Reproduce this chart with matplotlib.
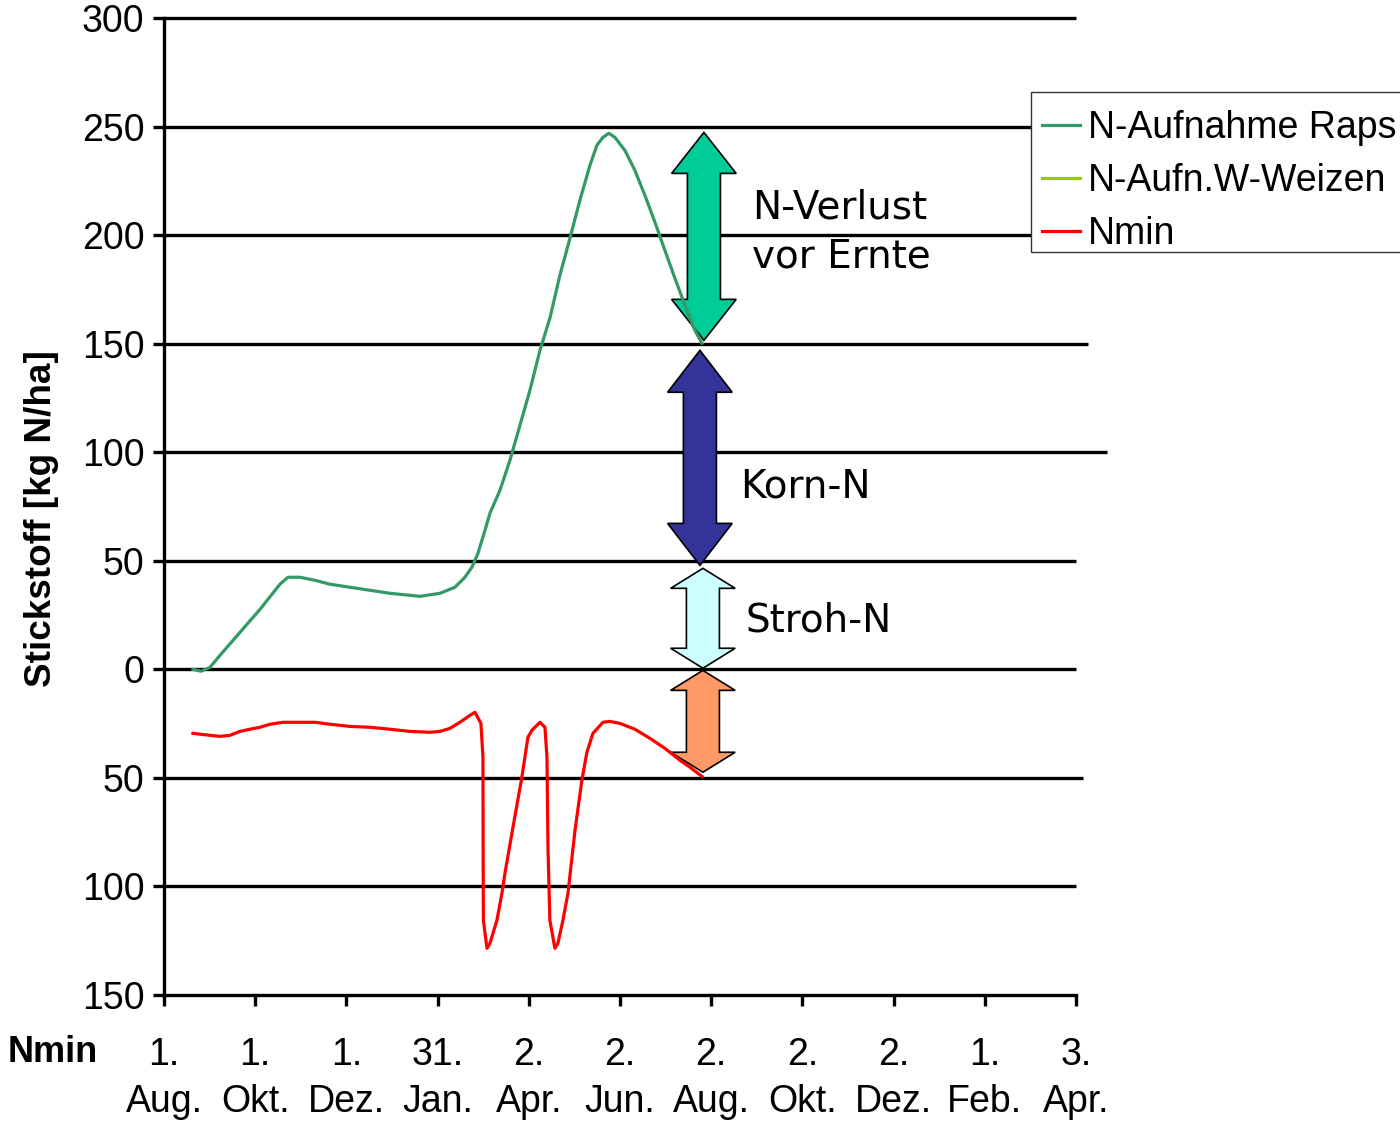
import matplotlib
matplotlib.use("Agg")
import matplotlib.pyplot as plt
from matplotlib.patches import Polygon, Rectangle

# ---------------- data ----------------
tick_dates_top = ["1.", "1.", "1.", "31.", "2.", "2.", "2.", "2.", "2.", "1.", "3."]
tick_dates_bot = ["Aug.", "Okt.", "Dez.", "Jan.", "Apr.", "Jun.", "Aug.", "Okt.", "Dez.", "Feb.", "Apr."]
y_ticks = [-150, -100, -50, 0, 50, 100, 150, 200, 250, 300]
y_tick_labels = ["150", "100", "50", "0", "50", "100", "150", "200", "250", "300"]

raps_x = [0.318, 0.406, 0.504, 0.614, 0.833, 1.053, 1.272, 1.36, 1.491, 1.656, 1.82, 2.04,
          2.259, 2.478, 2.697, 2.807, 3.026, 3.191, 3.3, 3.377, 3.443, 3.52, 3.575, 3.684,
          3.794, 3.904, 4.013, 4.123, 4.232, 4.342, 4.452, 4.561, 4.671, 4.748, 4.814,
          4.879, 4.945, 5.055, 5.164, 5.274, 5.384, 5.493, 5.603, 5.713, 5.822, 5.899]
raps_y = [0.0, -0.9, 0.9, 6.4, 17.0, 27.6, 39.2, 42.4, 42.4, 41.0, 39.2, 37.8,
          36.4, 35.0, 34.1, 33.6, 35.0, 37.8, 42.4, 47.0, 53.4, 64.0, 71.9, 82.4,
          96.3, 112.4, 128.5, 146.9, 161.7, 181.5, 198.5, 216.0, 232.1, 241.4, 245.0,
          246.9, 245.0, 239.0, 229.8, 218.3, 205.9, 193.0, 180.1, 167.7, 156.1, 150.2]

nmin_x = [0.318, 0.504, 0.614, 0.724, 0.833, 0.943, 1.053, 1.162, 1.305, 1.491, 1.656, 1.82,
          2.04, 2.259, 2.478, 2.697, 2.917, 3.026, 3.136, 3.246, 3.355, 3.41, 3.476, 3.498,
          3.5, 3.503, 3.542, 3.575, 3.651, 3.706, 3.739, 3.827, 3.925, 3.991, 4.035, 4.123,
          4.178, 4.2, 4.211, 4.232, 4.287, 4.32, 4.375, 4.43, 4.507, 4.583, 4.638, 4.704,
          4.814, 4.89, 5.0, 5.164, 5.329, 5.493, 5.658, 5.768, 5.899]
nmin_y = [-29.5, -30.4, -30.9, -30.4, -28.6, -27.6, -26.7, -25.3, -24.4, -24.4, -24.4, -25.3,
          -26.3, -26.7, -27.6, -28.6, -29.0, -28.6, -27.2, -24.4, -21.2, -19.8, -24.9, -40.5,
          -82.0, -115.6, -128.5, -126.2, -115.6, -103.2, -94.0, -72.8, -49.7, -31.3, -28.1, -24.4,
          -26.7, -40.5, -82.0, -115.6, -128.5, -126.2, -115.6, -103.2, -74.4, -51.1, -38.2, -29.5,
          -24.4, -24.0, -24.9, -27.6, -31.8, -36.4, -41.9, -45.1, -49.3]

weizen_x = []
weizen_y = []

series_names = ["N-Aufnahme Raps", "N-Aufn.W-Weizen", "Nmin"]
series_colors = ["#339966", "#99CC00", "#FF0000"]

# arrows: x centre, top, bottom, head length, colour
arrow_x = [5.921, 5.877, 5.91, 5.91]
arrow_top = [247.3, 146.9, 46.5, -0.5]
arrow_bot = [151.5, 47.9, 0.5, -47.4]
arrow_head = [18.9, 19.3, 9.2, 9.2]
arrow_colors = ["#00CC99", "#333399", "#CCFFFF", "#FF9966"]
arrow_texts = ["N-Verlust\nvor Ernte", "Korn-N", "Stroh-N"]
arrow_text_pos = [(6.447, 201.3), (6.316, 84.3), (6.382, 22.6)]

grid_vals = [-100, -50, 0, 50, 100, 150, 200, 250, 300]
grid_ends = [10.0, 10.08, 10.0, 10.0, 10.34, 10.13, 10.0, 10.0, 10.0]

# ---------------- figure ----------------
AX_FONT = "Liberation Sans"
W, H = 1400, 1122
fig = plt.figure(figsize=(14, 11.22), dpi=100)
ax = fig.add_axes([0.1171, 0.1132, 0.6514, 0.8708])
ax.set_xlim(0, 10)
ax.set_ylim(-150, 300)

ax.hlines(grid_vals, 0, grid_ends, colors="black", linewidth=2.4, clip_on=False, zorder=1)

for xc, yt, yb, hl, col in zip(arrow_x, arrow_top, arrow_bot, arrow_head, arrow_colors):
    sw, hw = 0.181, 0.354
    pts = [(xc, yt), (xc + hw, yt - hl), (xc + sw, yt - hl), (xc + sw, yb + hl),
           (xc + hw, yb + hl), (xc, yb), (xc - hw, yb + hl), (xc - sw, yb + hl),
           (xc - sw, yt - hl), (xc - hw, yt - hl)]
    ax.add_patch(Polygon(pts, closed=True, facecolor=col, edgecolor="black",
                         linewidth=1.2, zorder=2))

l1, = ax.plot(raps_x, raps_y, color=series_colors[0], linewidth=2.3, zorder=3)
l2, = ax.plot(weizen_x, weizen_y, color=series_colors[1], linewidth=2.3, zorder=3)
l3, = ax.plot(nmin_x, nmin_y, color=series_colors[2], linewidth=2.3, zorder=3)

for txt, (tx, ty) in zip(arrow_texts, arrow_text_pos):
    ax.text(tx, ty, txt, fontsize=28, family="DejaVu Sans", ha="left", va="center",
            linespacing=1.35, zorder=4)

for s in ["top", "right"]:
    ax.spines[s].set_visible(False)
for s in ["left", "bottom"]:
    ax.spines[s].set_linewidth(2.4)

ax.set_yticks(y_ticks)
ax.set_yticklabels(y_tick_labels, fontsize=27, family=AX_FONT)
ax.set_xticks(range(len(tick_dates_top)))
ax.set_xticklabels([f"{a}\n{b}" for a, b in zip(tick_dates_top, tick_dates_bot)],
                   fontsize=27, family=AX_FONT, linespacing=1.42)
ax.tick_params(axis="y", direction="out", length=8, width=2.4, pad=6)
ax.tick_params(axis="x", direction="out", length=8, width=2.4, pad=22)

fig.text(8 / W, 1 - 1052 / H, "Nmin", fontsize=26, fontweight="bold",
         family=AX_FONT, ha="left", va="center")
fig.text(42 / W, 1 - 519 / H, "Stickstoff [kg N/ha]", fontsize=26.6,
         fontweight="bold", family=AX_FONT, rotation=90, ha="center", va="center")

# legend box (frame drawn separately so it matches the reference box)
fig.add_artist(Rectangle((1031 / W, 1 - 252 / H), 380 / W, 160 / H,
                         transform=fig.transFigure, facecolor="white",
                         edgecolor="#333333", linewidth=1.0, zorder=4))
leg = fig.legend([l1, l2, l3], series_names, loc="upper left",
                 bbox_to_anchor=(1042 / W, 1 - 110 / H), frameon=False,
                 borderaxespad=0, borderpad=0.0,
                 handlelength=1.0, handletextpad=0.22, labelspacing=0.45,
                 prop={"family": AX_FONT, "size": 27})
leg.set_zorder(5)

fig.savefig("out.png", dpi=100)
